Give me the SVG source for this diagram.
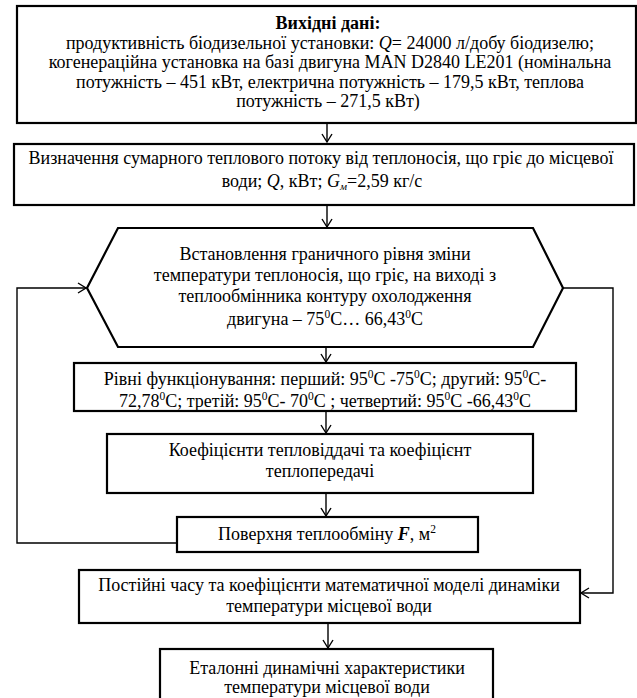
<svg xmlns="http://www.w3.org/2000/svg" width="637" height="698" viewBox="0 0 637 698">
<style>
.box{fill:#fff;stroke:#000;stroke-width:2.2}
.t{font-family:"Liberation Serif","Times New Roman",serif;font-size:18px;fill:#000;text-anchor:middle}
.c{fill:none;stroke:#000;stroke-width:1.4}
.i{font-style:italic}
.sp{font-size:11.5px}
</style>
<defs>
<marker id="ah" markerUnits="userSpaceOnUse" markerWidth="14" markerHeight="14" refX="9" refY="6" orient="auto">
<path d="M1,1 L9,6 L1,11" fill="none" stroke="#000" stroke-width="1.4"/>
</marker>
<clipPath id="lvclip"><rect x="75" y="364" width="500" height="46"/></clipPath>
</defs>
<rect width="637" height="698" fill="#fff"/>
<g id="connectors">
<path class="c" d="M327,123 V142" marker-end="url(#ah)"/>
<path class="c" d="M327,205 V227" marker-end="url(#ah)"/>
<path class="c" d="M326,347 V362" marker-end="url(#ah)"/>
<path class="c" d="M326,411 V433" marker-end="url(#ah)"/>
<path class="c" d="M326,493 V516" marker-end="url(#ah)"/>
<path class="c" d="M177,543 H17 V288 H86" marker-end="url(#ah)"/>
<path class="c" d="M563,288 H613 V593 H581" marker-end="url(#ah)"/>
<path class="c" d="M328,623 V648" marker-end="url(#ah)"/>
</g>
<g id="input">
<rect class="box" x="17" y="6" width="619" height="117"/>
<text class="t" x="328" y="29" font-weight="bold">Вихідні дані:</text>
<text class="t" x="330" y="48.6">продуктивність біодизельної установки: <tspan class="i">Q</tspan>= 24000 л/добу біодизелю;</text>
<text class="t" x="330" y="68.2">когенераційна установка на базі двигуна MAN D2840 LE201 (номінальна</text>
<text class="t" x="330" y="87.8">потужність – 451 кВт, електрична потужність – 179,5 кВт, теплова</text>
<text class="t" x="328" y="107.4">потужність – 271,5 кВт)</text>
</g>
<g id="heatflow">
<rect class="box" x="14" y="144" width="620" height="61"/>
<text class="t" x="321" y="164">Визначення сумарного теплового потоку від теплоносія, що гріє до місцевої</text>
<text class="t" x="322" y="187">води; <tspan class="i">Q</tspan>, кВт; <tspan class="i">G</tspan><tspan class="i" font-size="11" dy="3">м</tspan><tspan dy="-3">=2,59 кг/с</tspan></text>
</g>
<g id="limit">
<polygon class="box" points="118,228 533,228 563,288 533,347 118,347 87,288"/>
<text class="t" x="325" y="260">Встановлення граничного рівня зміни</text>
<text class="t" x="325" y="281">температури теплоносія, що гріє, на виході з</text>
<text class="t" x="325" y="301.5">теплообмінника контуру охолодження</text>
<text class="t" x="325" y="325">двигуна – 75<tspan class="sp" dy="-7">0</tspan><tspan dy="7">C… 66,43</tspan><tspan class="sp" dy="-7">0</tspan><tspan dy="7">C</tspan></text>
</g>
<g id="levels">
<rect class="box" x="74" y="363" width="502" height="48"/>
<g clip-path="url(#lvclip)">
<text class="t" x="325" y="385">Рівні функціонування: перший: 95<tspan class="sp" dy="-7">0</tspan><tspan dy="7">C -75</tspan><tspan class="sp" dy="-7">0</tspan><tspan dy="7">C; другий: 95</tspan><tspan class="sp" dy="-7">0</tspan><tspan dy="7">C-</tspan></text>
<text class="t" x="325" y="406.5">72,78<tspan class="sp" dy="-7">0</tspan><tspan dy="7">C; третій: 95</tspan><tspan class="sp" dy="-7">0</tspan><tspan dy="7">C- 70</tspan><tspan class="sp" dy="-7">0</tspan><tspan dy="7">C ; четвертий: 95</tspan><tspan class="sp" dy="-7">0</tspan><tspan dy="7">C -66,43</tspan><tspan class="sp" dy="-7">0</tspan><tspan dy="7">C</tspan></text>
</g>
</g>
<g id="coefficients">
<rect class="box" x="107" y="434" width="426" height="59"/>
<text class="t" x="320" y="456">Коефіцієнти тепловіддачі та коефіцієнт</text>
<text class="t" x="320" y="477">теплопередачі</text>
</g>
<g id="surface">
<rect class="box" x="177" y="517" width="301" height="35"/>
<text class="t" x="327" y="540">Поверхня теплообміну <tspan class="i" font-weight="bold">F</tspan>, м<tspan class="sp" dy="-7">2</tspan></text>
</g>
<g id="constants">
<rect class="box" x="79" y="570" width="501" height="53"/>
<text class="t" x="329" y="591">Постійні часу та коефіцієнти математичної моделі динаміки</text>
<text class="t" x="329" y="611.5">температури місцевої води</text>
</g>
<g id="reference">
<rect class="box" x="160" y="649" width="333" height="60"/>
<text class="t" x="327" y="673.5">Еталонні динамічні характеристики</text>
<text class="t" x="327" y="693">температури місцевої води</text>
</g>
</svg>
